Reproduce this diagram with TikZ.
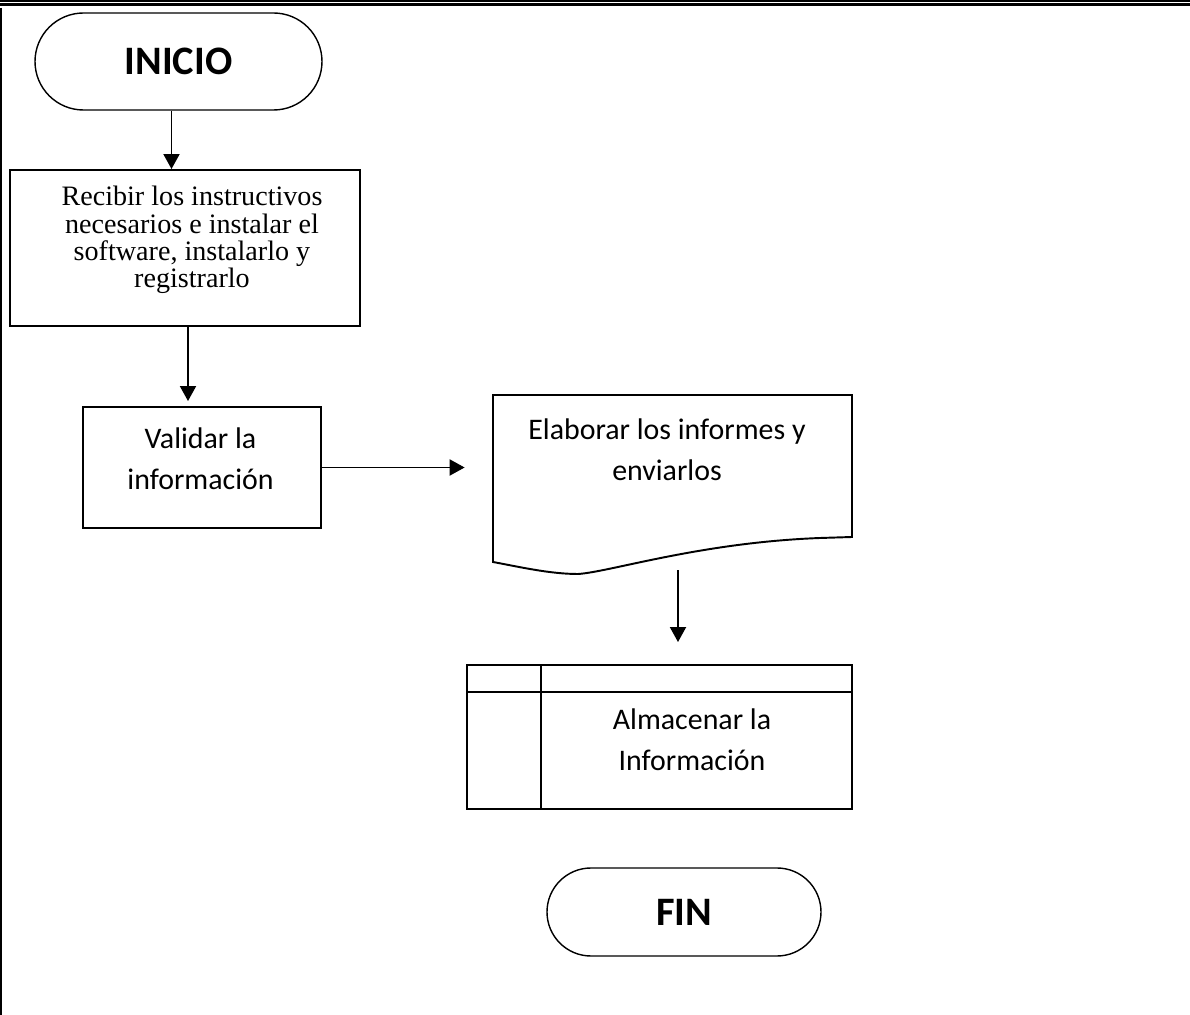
\documentclass[tikz,border=0pt]{standalone}
\usepackage{fontspec}
\setmainfont{Liberation Serif}
\newfontfamily\carlito{Carlito}
\usetikzlibrary{arrows.meta}

\tikzset{
  frameline/.style={line width=1.1pt},
  terminal/.style={draw, rectangle, line width=0.8pt, inner sep=0pt,
    font=\carlito\bfseries\fontsize{23}{27}\selectfont},
  procbox/.style={draw, rectangle, line width=1.1pt, inner sep=0pt},
  ghostbox/.style={rectangle, inner sep=0pt},
  boxtext/.style={align=center, inner sep=0pt,
    font=\carlito\fontsize{17}{23.3}\selectfont},
  arr/.style={-{Triangle[length=0.3cm, width=0.32cm]}, line width=1.1pt}
}

\begin{document}
\begin{tikzpicture}

  \useasboundingbox (0,0) rectangle (23.8,-20.3);

  % ---- Page frame ----
  \draw[line width=0.85pt] (0,-0.02) -- (23.8,-0.02);
  \draw[line width=1.7pt] (0,-0.09) -- (23.8,-0.09);
  \draw[frameline] (0.02,-0.16) -- (0.02,-20.3);

  % ---- INICIO ----
  \node[terminal, minimum width=5.74cm, minimum height=1.94cm,
    rounded corners=0.97cm] (inicio) at (3.57,-1.23) {INICIO};

  % ---- Recibir instructivos ----
  \node[procbox, minimum width=7.0cm, minimum height=3.12cm] (recibir) at (3.70,-4.96) {};
  \node[align=center, inner sep=0pt, font=\fontsize{16}{15.6}\selectfont]
    at ([xshift=0.14cm, yshift=0.16cm]recibir.center)
    {Recibir los instructivos\\necesarios e instalar el\\software, instalarlo y\\registrarlo};

  % ---- Validar ----
  \node[procbox, minimum width=4.76cm, minimum height=2.42cm] (validar) at (4.04,-9.35) {};
  \node[boxtext] at ([xshift=-0.03cm, yshift=0.17cm]validar.center)
    {Validar la\\información};

  % ---- Elaborar informes (document shape) ----
  \node[ghostbox, minimum width=7.18cm, minimum height=3.34cm] (elaborar) at (13.45,-9.57) {};
  \draw[line width=1.1pt]
    (9.86,-11.24) -- (9.86,-7.90) -- (17.04,-7.90) -- (17.04,-10.74)
    -- (16.40,-10.76)
    .. controls (14.0,-10.85) and (12.2,-11.44) .. (11.56,-11.48)
    .. controls (11.0,-11.48) and (10.40,-11.34) .. (9.86,-11.24) -- cycle;
  \node[boxtext] at ([xshift=-0.11cm, yshift=0.57cm]elaborar.center)
    {Elaborar los informes y\\enviarlos};

  % ---- Almacenar ----
  \node[procbox, minimum width=7.7cm, minimum height=2.88cm] (almacenar) at (13.19,-14.74) {};
  \draw[line width=1.1pt] ([yshift=-0.56cm]almacenar.north west) -- ([yshift=-0.56cm]almacenar.north east);
  \draw[line width=1.1pt] ([xshift=1.5cm]almacenar.north west) -- ([xshift=1.5cm]almacenar.south west);
  \node[boxtext] at ([xshift=0.65cm, yshift=-0.06cm]almacenar.center)
    {Almacenar la\\Información};

  % ---- FIN ----
  \node[terminal, minimum width=5.48cm, minimum height=1.76cm,
    rounded corners=0.88cm] (fin) at (13.68,-18.24) {FIN};

  % ---- Arrows ----
  \draw[arr] ([xshift=-0.14cm]inicio.south) -- ([xshift=-0.14cm]inicio.south |- recibir.north);
  \draw[arr, shorten >=0.1cm] ([xshift=0.06cm]recibir.south) -- ([xshift=0.06cm]recibir.south |- validar.north);
  \draw[arr, shorten >=0.56cm] (validar.east) -- (validar.east -| elaborar.west);
  \draw[arr, shorten <=0.16cm, shorten >=0.44cm]
    ([xshift=0.11cm]elaborar.south) -- ([xshift=0.11cm]elaborar.south |- almacenar.north);

\end{tikzpicture}
\end{document}
